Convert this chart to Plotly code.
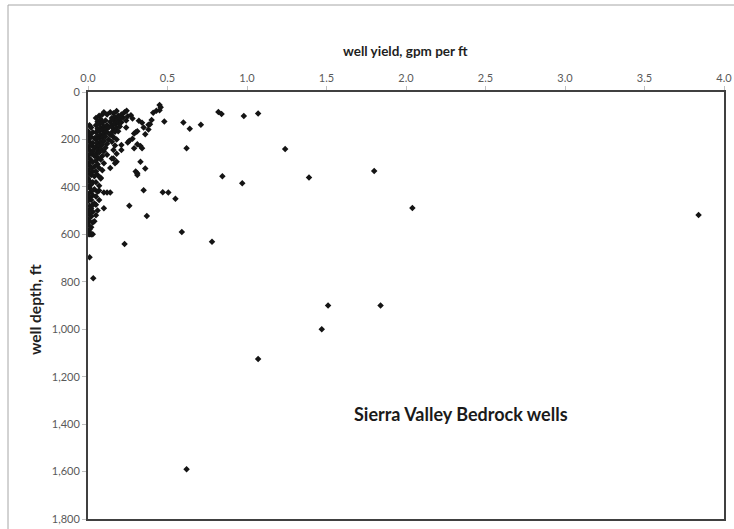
import plotly.graph_objects as go

# well yield (gpm per ft) and well depth (ft)
yield_gpm_ft = [
    # left column
    0.01, 0.02, 0.00, 0.03, 0.01, 0.02, 0.04, 0.00, 0.01, 0.03, 0.02, 0.00, 0.04, 0.01, 0.03, 0.02,
    0.00, 0.04, 0.01, 0.02, 0.03, 0.00, 0.01, 0.04, 0.02, 0.00, 0.03, 0.01, 0.02, 0.04, 0.00, 0.01,
    0.03, 0.02, 0.00, 0.01, 0.04, 0.02, 0.00, 0.03, 0.01, 0.02, 0.00, 0.04, 0.01, 0.02, 0.00, 0.03,
    0.01, 0.02, 0.00, 0.01, 0.03, 0.00, 0.02, 0.01, 0.00, 0.03, 0.01, 0.02,
    # middle
    0.05, 0.07, 0.06, 0.08, 0.09, 0.10, 0.05, 0.07, 0.09, 0.11, 0.06, 0.08, 0.10, 0.12, 0.05, 0.07,
    0.09, 0.11, 0.13, 0.06, 0.08, 0.10, 0.12, 0.05, 0.07, 0.09, 0.11, 0.14, 0.06, 0.08, 0.10, 0.13,
    0.05, 0.07, 0.09, 0.12, 0.06, 0.08, 0.11, 0.05, 0.07, 0.10, 0.06, 0.09, 0.12, 0.05, 0.08, 0.06,
    0.10, 0.07, 0.05, 0.09, 0.06, 0.08, 0.05, 0.07, 0.06, 0.05, 0.07, 0.06, 0.05, 0.04,
    # upper wedge
    0.12, 0.14, 0.16, 0.18, 0.15, 0.17, 0.19, 0.21, 0.23, 0.14, 0.16, 0.18, 0.20, 0.22, 0.25, 0.27,
    0.15, 0.17, 0.19, 0.21, 0.24, 0.28, 0.16, 0.18, 0.20, 0.15, 0.17, 0.19, 0.16, 0.18, 0.15, 0.17,
    0.16, 0.18, 0.15, 0.17, 0.14,
    # scattered
    0.243, 0.41, 0.43, 0.457, 0.45, 0.45, 0.39, 0.48, 0.32, 0.34, 0.38, 0.30, 0.29, 0.31, 0.35, 0.28,
    0.25, 0.31, 0.33, 0.21, 0.26, 0.29, 0.34, 0.36, 0.38, 0.40, 0.24, 0.33, 0.36, 0.31, 0.30, 0.16,
    0.18, 0.21, 0.08, 0.31, 0.35, 0.47, 0.505, 0.55, 0.10, 0.14, 0.12, 0.07, 0.26, 0.37, 0.10, 0.03,
    0.05, 0.02, 0.00, 0.23, 0.01, 0.033, 0.59, 0.78, 0.60, 0.64, 0.71, 0.62, 0.82, 0.84, 0.98, 1.07,
    0.845, 0.97, 1.24, 1.39, 1.80, 2.04, 3.84, 1.51, 1.84, 1.47, 1.07, 0.62,
]

depth_ft = [
    # left column
    140, 150, 165, 170, 180, 190, 195, 200, 210, 215, 225, 230, 235, 245, 250, 260,
    265, 270, 280, 290, 295, 300, 310, 315, 320, 330, 335, 345, 350, 355, 365, 375,
    380, 390, 395, 405, 410, 420, 430, 435, 445, 455, 460, 470, 480, 490, 500, 505,
    515, 525, 535, 545, 550, 560, 570, 580, 590, 600, 600, 600,
    # middle
    110, 100, 125, 115, 95, 85, 140, 135, 130, 120, 155, 150, 145, 140, 170, 165,
    160, 158, 150, 185, 180, 175, 170, 200, 195, 192, 188, 180, 215, 210, 205, 200,
    230, 228, 222, 218, 245, 240, 235, 260, 255, 250, 275, 270, 265, 290, 285, 305,
    300, 320, 335, 330, 350, 365, 380, 395, 420, 440, 455, 500, 520, 545,
    # upper wedge
    95, 85, 90, 80, 110, 105, 100, 95, 85, 125, 120, 118, 112, 108, 102, 98,
    140, 135, 130, 128, 120, 112, 155, 150, 145, 170, 168, 165, 190, 200, 210, 225,
    245, 260, 280, 300, 320,
    # scattered
    79, 87, 79, 64, 55, 77, 136, 124, 121, 130, 138, 170, 175, 165, 150, 197,
    213, 220, 228, 223, 205, 237, 237, 178, 158, 118, 150, 294, 322, 343, 335, 280,
    294, 245, 361, 350, 414, 423, 424, 450, 424, 424, 424, 415, 479, 523, 490, 475,
    475, 600, 600, 641, 697, 785, 590, 631, 129, 155, 138, 237, 84, 93, 101, 91,
    355, 385, 240, 360, 333, 489, 518, 900, 900, 1000, 1125, 1590,
]

x_tick_vals = [0.0, 0.5, 1.0, 1.5, 2.0, 2.5, 3.0, 3.5, 4.0]
y_tick_vals = [0, 200, 400, 600, 800, 1000, 1200, 1400, 1600, 1800]
y_tick_text = ["0", "200", "400", "600", "800", "1,000", "1,200", "1,400", "1,600", "1,800"]

FONT = "Lato, 'Open Sans', sans-serif"

# plot area in pixels: x 88..724, y 92..519
L, R, T, B = 88, 724, 92, 519
W, H = R - L, B - T


def px(xp):
    return (xp - L) / W


def py(yp):
    return (B - yp) / H


fig = go.Figure()
fig.add_trace(go.Scatter(
    x=yield_gpm_ft, y=depth_ft, mode="markers",
    marker=dict(symbol="diamond", size=5, color="#141414"),
    showlegend=False, hoverinfo="x+y",
))

fig.update_layout(
    width=734, height=529,
    margin=dict(l=L, r=734 - R, t=T, b=529 - B),
    paper_bgcolor="white", plot_bgcolor="white",
    font=dict(family=FONT, color="#595959", size=11),
    xaxis=dict(
        side="top", range=[0, 4], tickvals=x_tick_vals, tickformat=".1f",
        showgrid=False, zeroline=False, automargin=False,
        showline=True, linecolor="#404040", linewidth=2, mirror=True,
        ticks="outside", ticklen=4, tickcolor="#c0c0c0",
        tickfont=dict(size=11, color="#595959"),
    ),
    yaxis=dict(
        range=[1800, 0], tickvals=y_tick_vals, ticktext=y_tick_text,
        showgrid=False, zeroline=False, automargin=False,
        showline=True, linecolor="#404040", linewidth=2, mirror=True,
        ticks="outside", ticklen=4, tickcolor="#c0c0c0",
        tickfont=dict(size=11, color="#595959"),
    ),
    annotations=[
        dict(x=px(461), y=py(414), xref="paper", yref="paper",
             xanchor="center", yanchor="middle",
             text="<b>Sierra Valley Bedrock wells</b>", showarrow=False,
             font=dict(size=18, color="#1a1a1a", family=FONT)),
        dict(x=px(405), y=py(51), xref="paper", yref="paper",
             xanchor="center", yanchor="middle",
             text="<b>well yield, gpm per ft</b>", showarrow=False,
             font=dict(size=13.5, color="#1f1f1f", family=FONT)),
        dict(x=px(35), y=py(310), xref="paper", yref="paper", textangle=-90,
             xanchor="center", yanchor="middle",
             text="<b>well depth, ft</b>", showarrow=False,
             font=dict(size=15.5, color="#1f1f1f", family=FONT)),
    ],
    shapes=[
        dict(type="line", xref="paper", yref="paper",
             x0=px(8), x1=px(740), y0=py(5), y1=py(5),
             line=dict(color="#a6a6a6", width=1)),
        dict(type="line", xref="paper", yref="paper",
             x0=px(8), x1=px(8), y0=py(540), y1=py(5),
             line=dict(color="#a6a6a6", width=1)),
    ],
)

fig.write_html(
    "out.html",
    config={"displayModeBar": False},
    post_script="document.body.style.margin='0';document.body.style.padding='0';",
)
